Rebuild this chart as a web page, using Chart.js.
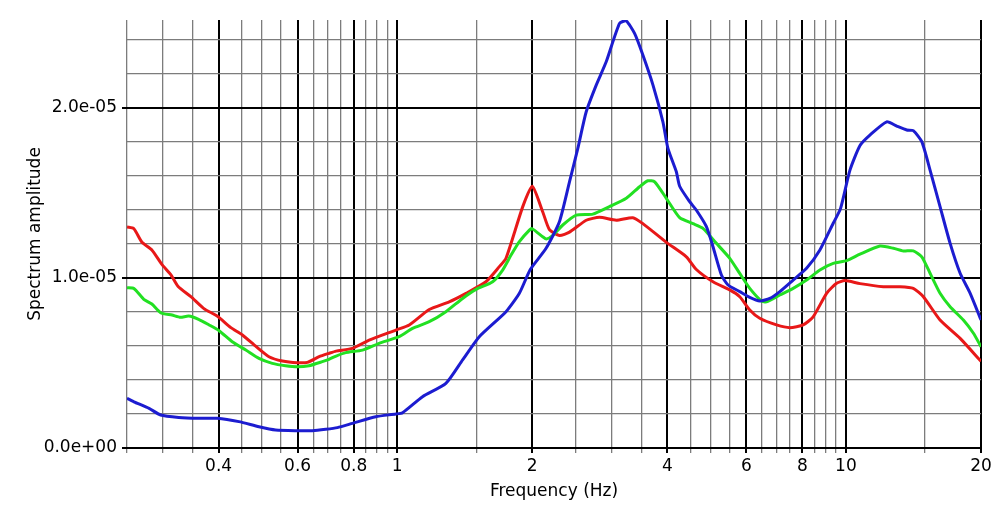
<!DOCTYPE html>
<html>
<head>
<meta charset="utf-8">
<script src="https://cdn.jsdelivr.net/npm/chart.js@4.4.1/dist/chart.umd.min.js"></script>
<style>
  body { margin: 0; background: #fff; }
  #wrap { width: 1002px; height: 521px; }
</style>
</head>
<body>
<div id="wrap"><canvas id="myChart" width="1002" height="521"></canvas></div>
<script>
// frequency (Hz) / amplitude pairs
var blueFreq = [0.25, 0.259, 0.28, 0.297, 0.326, 0.361, 0.397, 0.444, 0.492, 0.536, 0.599, 0.647, 0.693, 0.736, 0.795, 0.896, 0.993, 1.028, 1.139, 1.284, 1.399, 1.524, 1.748, 1.872, 1.98, 2.147, 2.299, 2.421, 2.527, 2.638, 2.777, 2.923, 3.13, 3.24, 3.381, 3.528, 3.716, 3.91, 4.012, 4.189, 4.261, 4.486, 4.64, 4.888, 5.056, 5.279, 5.461, 5.8, 6.106, 6.427, 6.767, 7.124, 7.628, 8.171, 8.75, 9.369, 9.73, 10.21, 10.75, 11.31, 12.33, 12.98, 13.66, 14.13, 14.76, 15.4, 16.21, 17.07, 17.97, 18.92, 20];
var blueAmp = [2.92e-6, 2.72e-6, 2.33e-6, 1.94e-6, 1.8e-6, 1.75e-6, 1.75e-6, 1.55e-6, 1.25e-6, 1.06e-6, 1.02e-6, 1.02e-6, 1.1e-6, 1.2e-6, 1.45e-6, 1.84e-6, 2.0e-6, 2.08e-6, 3.02e-6, 3.8e-6, 5.18e-6, 6.55e-6, 8.02e-6, 9.1e-6, 10.5e-6, 11.75e-6, 13.31e-6, 15.66e-6, 17.63e-6, 19.78e-6, 21.35e-6, 22.72e-6, 24.98e-6, 25.12e-6, 24.39e-6, 23.12e-6, 21.35e-6, 19.19e-6, 17.63e-6, 16.25e-6, 15.4e-6, 14.49e-6, 14.0e-6, 13.02e-6, 11.84e-6, 10.18e-6, 9.59e-6, 9.2e-6, 8.86e-6, 8.65e-6, 8.8e-6, 9.2e-6, 9.88e-6, 10.57e-6, 11.65e-6, 13.22e-6, 14.1e-6, 16.35e-6, 17.8e-6, 18.41e-6, 19.19e-6, 18.94e-6, 18.71e-6, 18.67e-6, 18.02e-6, 16.35e-6, 14.2e-6, 12.04e-6, 10.28e-6, 9.1e-6, 7.53e-6];

var greenFreq = [0.25, 0.259, 0.2725, 0.284, 0.297, 0.315, 0.329, 0.343, 0.361, 0.381, 0.401, 0.429, 0.46, 0.492, 0.527, 0.564, 0.599, 0.636, 0.681, 0.705, 0.731, 0.768, 0.837, 0.912, 1.01, 1.082, 1.179, 1.284, 1.399, 1.499, 1.632, 1.718, 1.794, 1.872, 1.971, 2.0, 2.11, 2.15, 2.22, 2.339, 2.506, 2.729, 2.973, 3.24, 3.469, 3.62, 3.748, 3.979, 4.261, 4.563, 4.803, 5.145, 5.51, 5.8, 6.106, 6.484, 6.653, 7.124, 7.628, 8.171, 8.75, 9.369, 10.04, 10.75, 11.91, 12.76, 13.43, 14.13, 14.76, 15.4, 16.21, 17.07, 18.27, 19.24, 20];
var greenAmp = [9.43e-6, 9.39e-6, 8.75e-6, 8.47e-6, 7.96e-6, 7.82e-6, 7.69e-6, 7.76e-6, 7.57e-6, 7.24e-6, 6.9e-6, 6.25e-6, 5.76e-6, 5.27e-6, 4.98e-6, 4.84e-6, 4.78e-6, 4.84e-6, 5.08e-6, 5.22e-6, 5.41e-6, 5.61e-6, 5.76e-6, 6.16e-6, 6.55e-6, 7.04e-6, 7.43e-6, 8.02e-6, 8.8e-6, 9.33e-6, 9.78e-6, 10.47e-6, 11.35e-6, 12.14e-6, 12.82e-6, 12.9e-6, 12.43e-6, 12.3e-6, 12.5e-6, 13.12e-6, 13.7e-6, 13.76e-6, 14.2e-6, 14.69e-6, 15.37e-6, 15.72e-6, 15.66e-6, 14.69e-6, 13.55e-6, 13.2e-6, 12.92e-6, 12.04e-6, 11.16e-6, 10.27e-6, 9.39e-6, 8.65e-6, 8.6e-6, 9.0e-6, 9.39e-6, 9.88e-6, 10.47e-6, 10.86e-6, 11.02e-6, 11.4e-6, 11.88e-6, 11.75e-6, 11.59e-6, 11.6e-6, 11.25e-6, 10.28e-6, 9.1e-6, 8.31e-6, 7.53e-6, 6.75e-6, 5.96e-6];

var redFreq = [0.25, 0.259, 0.27, 0.284, 0.299, 0.313, 0.325, 0.347, 0.371, 0.397, 0.426, 0.452, 0.485, 0.518, 0.555, 0.599, 0.631, 0.67, 0.705, 0.731, 0.795, 0.866, 0.993, 1.064, 1.179, 1.306, 1.424, 1.577, 1.689, 1.748, 1.905, 2.0, 2.11, 2.184, 2.299, 2.421, 2.638, 2.824, 3.077, 3.351, 3.528, 3.979, 4.41, 4.642, 5.056, 5.51, 5.8, 6.106, 6.427, 7.004, 7.499, 8.03, 8.453, 9.056, 9.533, 9.949, 10.75, 12.12, 13.2, 14.13, 14.88, 16.21, 17.97, 20];
var redAmp = [13.0e-6, 12.9e-6, 12.1e-6, 11.65e-6, 10.8e-6, 10.2e-6, 9.5e-6, 8.9e-6, 8.2e-6, 7.76e-6, 7.08e-6, 6.65e-6, 5.96e-6, 5.37e-6, 5.12e-6, 5.02e-6, 5.04e-6, 5.37e-6, 5.57e-6, 5.7e-6, 5.86e-6, 6.35e-6, 6.94e-6, 7.24e-6, 8.15e-6, 8.6e-6, 9.1e-6, 9.78e-6, 10.67e-6, 11.16e-6, 14.2e-6, 15.4e-6, 13.9e-6, 12.85e-6, 12.5e-6, 12.7e-6, 13.4e-6, 13.57e-6, 13.4e-6, 13.55e-6, 13.2e-6, 12.1e-6, 11.25e-6, 10.5e-6, 9.78e-6, 9.3e-6, 8.9e-6, 8.12e-6, 7.63e-6, 7.24e-6, 7.08e-6, 7.24e-6, 7.72e-6, 9.1e-6, 9.69e-6, 9.85e-6, 9.67e-6, 9.49e-6, 9.49e-6, 9.39e-6, 8.9e-6, 7.53e-6, 6.45e-6, 5.1e-6];

// axis ticks / grid
var xLabelTicks = [0.4, 0.6, 0.8, 1, 2, 4, 6, 8, 10, 20];
var xMinorTicks = [0.25, 0.3, 0.35, 0.45, 0.5, 0.55, 0.65, 0.7, 0.75, 0.85, 0.9, 0.95, 1.5, 2.5, 3, 3.5, 4.5, 5, 5.5, 6.5, 7, 7.5, 8.5, 9, 9.5, 15];
var yGridTicks = [0, 2e-6, 4e-6, 6e-6, 8e-6, 1e-5, 1.2e-5, 1.4e-5, 1.6e-5, 1.8e-5, 2e-5, 2.2e-5, 2.4e-5];
var yLabelTicks = [0, 1e-5, 2e-5];

function pairs(fs, as) {
  return fs.map(function (f, i) { return { x: f, y: as[i] }; });
}
function isMajorX(v) { return xLabelTicks.indexOf(v) >= 0; }
function isMajorY(v) {
  return yLabelTicks.some(function (t) { return Math.abs(t - v) < 1e-9; });
}
function fmtExp(v) {
  return v.toExponential(1).replace(/e([+-])(\d)$/, 'e$10$2');
}

Chart.defaults.font.family = 'DejaVu Sans';
Chart.defaults.font.size = 17;
Chart.defaults.color = '#000';

var ctx = document.getElementById('myChart').getContext('2d');

new Chart(ctx, {
  type: 'line',
  data: {
    datasets: [
      { label: 'blue', data: pairs(blueFreq, blueAmp), borderColor: '#1c1cd0', borderWidth: 3, pointRadius: 0, fill: false, tension: 0.2 },
      { label: 'green', data: pairs(greenFreq, greenAmp), borderColor: '#22e022', borderWidth: 3, pointRadius: 0, fill: false, tension: 0.2 },
      { label: 'red', data: pairs(redFreq, redAmp), borderColor: '#e81818', borderWidth: 3, pointRadius: 0, fill: false, tension: 0.2 }
    ]
  },
  options: {
    responsive: false,
    animation: false,
    layout: { padding: { top: 20, right: 21, bottom: 0, left: 0 } },
    plugins: { legend: { display: false }, tooltip: { enabled: false } },
    scales: {
      x: {
        type: 'logarithmic',
        min: 0.25,
        max: 20,
        afterBuildTicks: function (scale) {
          var vals = xMinorTicks.concat(xLabelTicks).sort(function (a, b) { return a - b; });
          scale.ticks = vals.map(function (v) { return { value: v }; });
        },
        afterFit: function (scale) { scale.height = 73; },
        border: { display: false },
        grid: {
          color: function (c) { return c.tick && isMajorX(c.tick.value) ? '#000' : '#7c7c7c'; },
          lineWidth: function (c) { return c.tick && isMajorX(c.tick.value) ? 2 : 1.3; },
          tickLength: 5
        },
        ticks: {
          autoSkip: false,
          maxRotation: 0,
          padding: 3,
          callback: function (v) { return isMajorX(v) ? String(v) : ''; }
        },
        title: { display: true, text: 'Frequency (Hz)', padding: { top: 0, bottom: 19 } }
      },
      y: {
        min: 0,
        max: 2.518e-5,
        afterBuildTicks: function (scale) {
          scale.ticks = yGridTicks.map(function (v) { return { value: v }; });
        },
        afterFit: function (scale) { scale.width = 127; },
        border: { display: false },
        grid: {
          color: function (c) { return c.tick && isMajorY(c.tick.value) ? '#000' : '#7c7c7c'; },
          lineWidth: function (c) { return c.tick && isMajorY(c.tick.value) ? 2 : 1.3; },
          tickColor: function (c) { return c.tick && isMajorY(c.tick.value) ? '#000' : 'rgba(0,0,0,0)'; },
          tickLength: 5
        },
        ticks: {
          autoSkip: false,
          padding: 5,
          callback: function (v) { return isMajorY(v) ? fmtExp(v) : ''; }
        },
        title: { display: true, text: 'Spectrum amplitude', padding: { top: 25, bottom: 0 } }
      }
    }
  }
});
</script>
</body>
</html>
